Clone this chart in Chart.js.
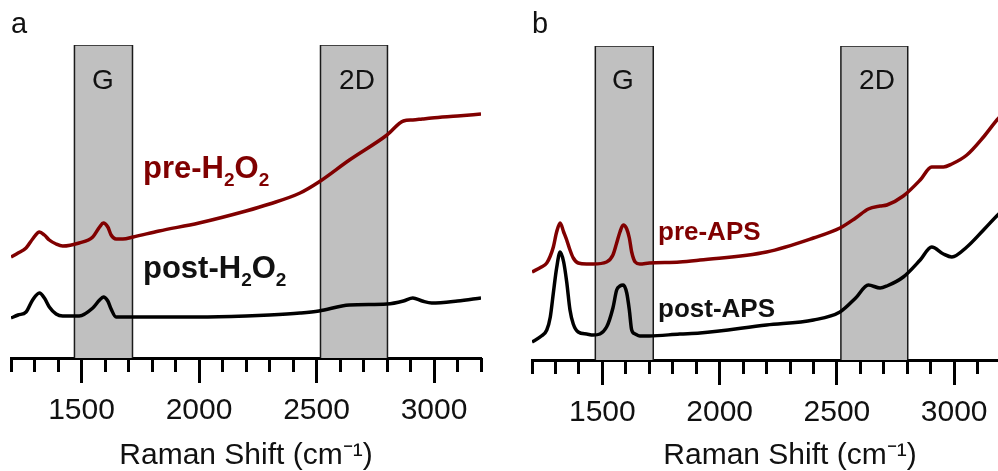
<!DOCTYPE html>
<html>
<head>
<meta charset="utf-8">
<script src="https://cdn.jsdelivr.net/npm/chart.js@4.4.1/dist/chart.umd.min.js"></script>
<style>
html,body{margin:0;padding:0;width:998px;height:471px;overflow:hidden;background:#fff;}
.panel{position:absolute;top:0;height:471px;}
#pa{left:0;width:495px;}
#pb{left:500px;width:560px;}
.lbl{position:absolute;white-space:nowrap;line-height:1;font-family:"Liberation Sans",Arial,sans-serif;color:#111;z-index:5;}
.band{font-size:28px;transform:translateX(-50%);}
.letter{font-size:29px;}
.ser{font-weight:bold;}
.red{color:#800000;}
.sub{font-size:19px;vertical-align:-8px;}
</style>
</head>
<body>
<div class="panel" id="pa"><canvas id="ca"></canvas></div>
<div class="panel" id="pb"><canvas id="cb"></canvas></div>

<div class="lbl letter" style="left:11px;top:9px;">a</div>
<div class="lbl letter" style="left:532px;top:9px;">b</div>
<div class="lbl band" style="left:103px;top:66px;">G</div>
<div class="lbl band" style="left:357px;top:66px;">2D</div>
<div class="lbl band" style="left:623px;top:66px;">G</div>
<div class="lbl band" style="left:877px;top:66px;">2D</div>

<div class="lbl ser red" style="left:143px;top:152px;font-size:31px;">pre-H<span class="sub">2</span>O<span class="sub">2</span></div>
<div class="lbl ser" style="left:143px;top:252px;font-size:31px;">post-H<span class="sub">2</span>O<span class="sub">2</span></div>
<div class="lbl ser red" style="left:658px;top:218px;font-size:26px;">pre-APS</div>
<div class="lbl ser" style="left:658px;top:295px;font-size:26px;">post-APS</div>

<script>
// ---------- data ----------
const ramanTicks = [1500, 2000, 2500, 3000];
const ramanTickLabels = ['1500', '2000', '2500', '3000'];
const minorTicks = [1200,1300,1400,1500,1600,1700,1800,1900,2000,2100,2200,2300,2400,2500,2600,2700,2800,2900,3000,3100,3200,3300,3400];
const bandG = [1470, 1717];
const band2D = [2517, 2802];

// panel a (H2O2)
const shiftA = [1200,1230,1264,1292,1321,1342,1363,1392,1420,1490,1548,1577,1593,1612,1626,1647,1676,1720,1830,2000,2200,2300,2430,2510,2640,2800,2870,2910,2950,2990,3100,3200];
const preH2O2 = [101,105,110,119,126,123,118,114,112,115,121,131,135,131,123,119,119,121,127,135,147,154,165,176,198,223,237,238,239,240,242,244];
const postH2O2 = [40,43,46,58,65,60,51,44,42,42,50,58,61,57,49,41,41,41,41,41,42,43,45,47,53,54,57,60,57,55,57,60];

// panel b (APS)
const shiftB = [1200,1240,1263,1278,1291,1305,1320,1335,1348,1362,1376,1397,1433,1461,1518,1545,1561,1575,1589,1604,1615,1625,1640,1660,1700,1830,1916,2200,2400,2513,2580,2634,2684,2713,2783,2855,2904,2954,2990,3054,3125,3190,3210];
const preAPS = [88,93,97,104,113,128,137,128,120,110,102,97,96,96,98,105,117,128,135,131,122,108,98,96,97,98,100,108,122,132,142,151,154,155,164,180,193,193,196,205,223,242,246];
const postAPS = [18,24,30,43,67,92,108,98,78,50,36,28,26,25,33,52,70,74,75,67,50,30,26,24,24,26,27,35,40,48,62,75,72,74,83,100,113,106,103,113,130,146,150];

// ---------- drawing ----------
const FONT = '"Liberation Sans", Arial, sans-serif';
const RED = '#800000';

function pts(xs, ys) { return xs.map((x, i) => ({ x: x, y: ys[i] })); }
function bandPts(b, top) { return [{x:b[0],y:0},{x:b[0],y:top},{x:b[1],y:top},{x:b[1],y:0}]; }

function makeChart(id, xs, pre, post, xMax, yMax, pad, axisH) {
  const bandStyle = { type:'line', fill:'origin', backgroundColor:'#c0c0c0', borderColor:'#1a1a1a', borderWidth:1.5, pointRadius:0, tension:0, order:5 };
  const lineStyle = { type:'line', fill:false, pointRadius:0, borderWidth:3.5, cubicInterpolationMode:'monotone', order:1 };
  return new Chart(document.getElementById(id), {
    type: 'line',
    data: {
      datasets: [
        Object.assign({ data: pts(xs, pre), borderColor: RED }, lineStyle),
        Object.assign({ data: pts(xs, post), borderColor: '#000' }, lineStyle),
        Object.assign({ data: bandPts(bandG, yMax) }, bandStyle),
        Object.assign({ data: bandPts(band2D, yMax) }, bandStyle)
      ]
    },
    options: {
      responsive: true,
      maintainAspectRatio: false,
      animation: false,
      events: [],
      layout: { padding: { left: pad.l, right: pad.r, top: pad.t, bottom: 0 } },
      plugins: { legend: { display: false }, tooltip: { enabled: false } },
      scales: {
        x: {
          type: 'linear', position: 'bottom', min: 1200, max: xMax, weight: 1,
          afterFit: s => { s.height = axisH; },
          afterBuildTicks: s => { s.ticks = ramanTicks.map(v => ({ value: v })); },
          ticks: { autoSkip: false, maxRotation: 0, padding: 10, color: '#111',
                   font: { family: FONT, size: 30 },
                   callback: v => ramanTickLabels[ramanTicks.indexOf(v)] },
          grid: { drawOnChartArea: false, drawTicks: true, tickLength: 25, tickWidth: 3, tickColor: '#000' },
          border: { display: true, width: 3, color: '#000' },
          title: { display: true, text: 'Raman Shift (cm\u207B\u00B9)', color: '#111',
                   font: { family: FONT, size: 30, lineHeight: 1 }, padding: { top: 0, bottom: 0 } }
        },
        xm: {
          type: 'linear', position: 'bottom', min: 1200, max: xMax, weight: 0,
          afterFit: s => { s.height = 0; },
          afterBuildTicks: s => { s.ticks = minorTicks.filter(v => v <= xMax).map(v => ({ value: v })); },
          ticks: { display: false },
          grid: { drawOnChartArea: false, drawTicks: true, tickLength: 14, tickWidth: 3, tickColor: '#000' },
          border: { display: false }
        },
        y: { display: false, min: 0, max: yMax }
      }
    }
  });
}

makeChart('ca', shiftA, preH2O2, postH2O2, 3200, 313, { l: 11, r: 14, t: 45 }, 113);
makeChart('cb', shiftB, preAPS, postAPS, 3400, 314, { l: 32, r: 12, t: 46 }, 111);
</script>
</body>
</html>
